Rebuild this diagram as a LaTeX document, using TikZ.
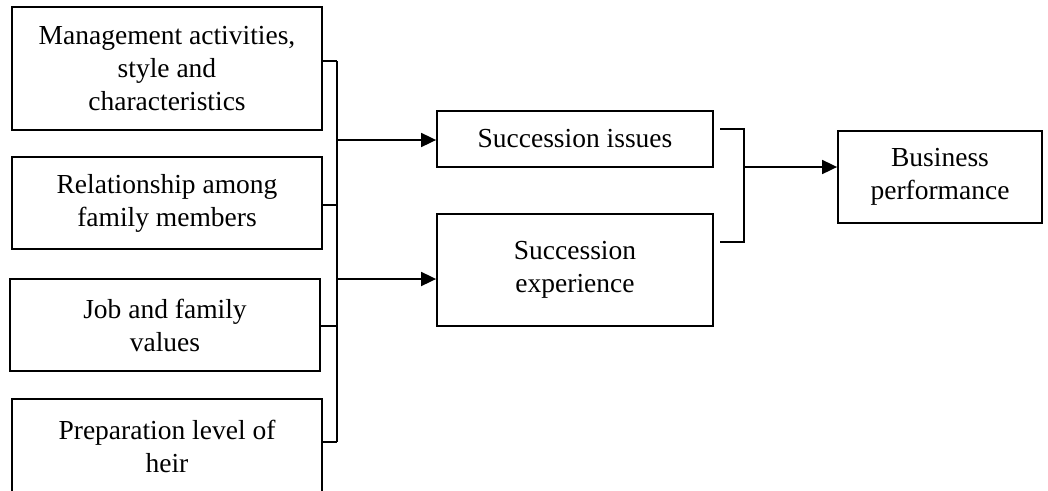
\documentclass[tikz,border=0pt]{standalone}
\usepackage{fontspec}
\setmainfont{Liberation Serif}
\usetikzlibrary{arrows.meta,calc}
\begin{document}
\begin{tikzpicture}[x=1pt,y=-1pt,
  box/.style={draw,line width=1.8pt,align=center,inner sep=0pt,
    font=\fontsize{27.5}{33}\selectfont},
  link/.style={line width=1.8pt},
  arr/.style={link,-{Triangle[length=15pt,width=14pt]}}]
\useasboundingbox (0,0) rectangle (1048,490);

% factors on the left
\node[box,minimum width=310pt,minimum height=123pt] (mgmt) at (167,68.5)
  {Management activities,\\style and\\characteristics};
\node[box,minimum width=310pt,minimum height=92pt] (rel) at (167,203)
  {Relationship among\\family members};
\node[box,minimum width=310pt,minimum height=92pt] (job) at (165,325)
  {Job and family\\values};
\node[box,minimum width=310pt,minimum height=94pt] (prep) at (167,446)
  {Preparation level of\\heir};

% middle boxes
\node[box,minimum width=276pt,minimum height=56pt] (issues) at (575,139)
  {Succession issues};
\node[box,minimum width=276pt,minimum height=112pt] (exper) at (575,270)
  {Succession\\experience};

% outcome
\node[box,minimum width=204pt,minimum height=92pt] (perf) at (940,177)
  {Business\\performance};

% left bracket
\coordinate (spT) at (337,61);
\coordinate (spB) at (337,442);
\draw[link] (mgmt.east |- spT) -- (spT);
\draw[link] (rel.east |- 0,205) -- (337,205);
\draw[link] (job.east |- 0,326) -- (337,326);
\draw[link] (prep.east |- spB) -- (spB);
\draw[link] (spT) -- (spB);
\draw[arr] (337,140) -- (issues.west |- 0,140);
\draw[arr] (337,279) -- (exper.west |- 0,279);

% right bracket
\coordinate (rbT) at (744,129);
\coordinate (rbB) at (744,242);
\draw[link] (720,129) -- (rbT) -- (rbB) -- (720,242);
\draw[arr] (744,167) -- (perf.west |- 0,167);
\end{tikzpicture}
\end{document}
